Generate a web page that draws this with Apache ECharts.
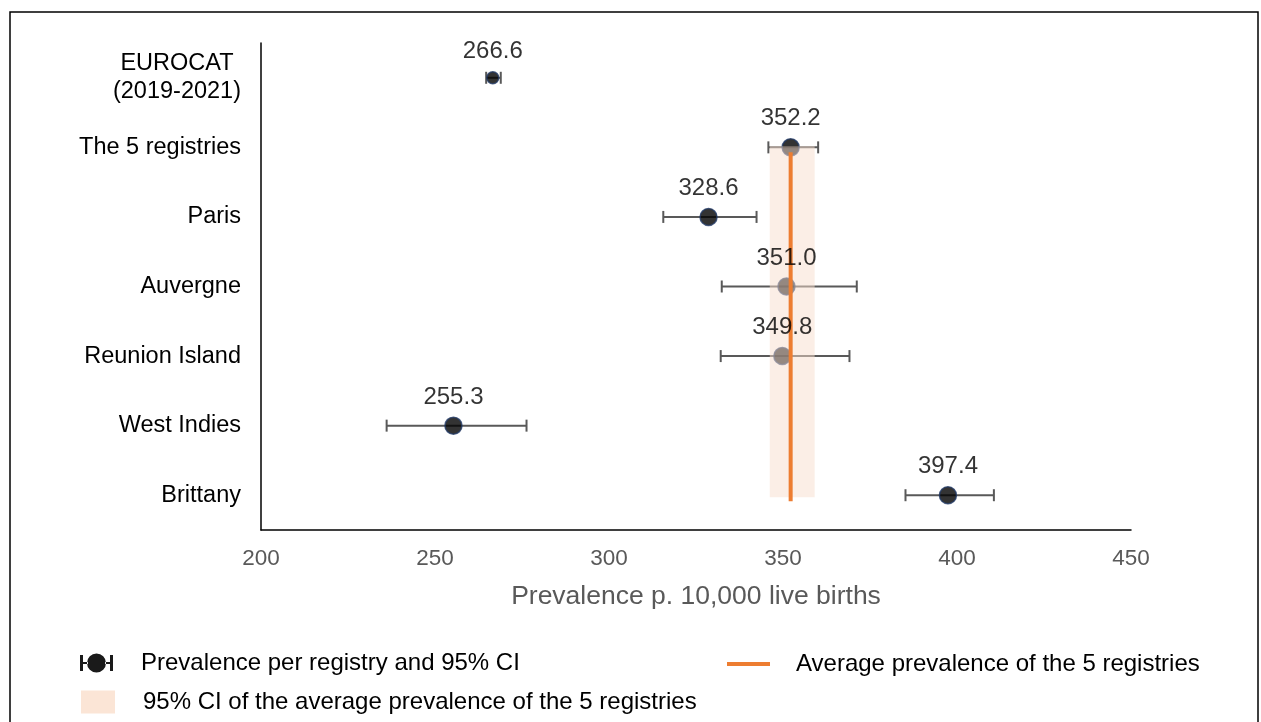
<!DOCTYPE html>
<html>
<head>
<meta charset="utf-8">
<script src="https://cdn.jsdelivr.net/npm/echarts@6/dist/echarts.min.js"></script>
<style>
  html, body { margin: 0; padding: 0; background: #fff; }
  #chart { width: 1261px; height: 722px; }
</style>
</head>
<body>
<div id="chart"></div>
<script>
// Registries, top to bottom
const categories = ['EUROCAT\n(2019-2021)', 'The 5 registries', 'Paris', 'Auvergne', 'Reunion Island', 'West Indies', 'Brittany'];
const prevalence = [266.6, 352.2, 328.6, 351.0, 349.8, 255.3, 397.4];
const ciLow = [264.7, 345.8, 315.6, 332.4, 332.1, 236.1, 385.2];
const ciHigh = [268.9, 360.1, 342.4, 371.2, 369.1, 276.3, 410.6];

// Average of the 5 registries and its 95% CI
const avgPrevalence = 352.2;
const avgCiLow = 346.2;
const avgCiHigh = 359.1;
const avgFrom = 1; // 'The 5 registries'
const avgTo = 6;   // 'Brittany'

const xTicks = { min: 200, max: 450, interval: 50 };

const FONT = '"Liberation Sans", Arial, sans-serif';
const GREY = '#595959';
const NAME_POINTS = 'Prevalence per registry and 95% CI';
const NAME_BAND = '95% CI of the average prevalence of the 5 registries';
const NAME_AVG = 'Average prevalence of the 5 registries';

const chart = echarts.init(document.getElementById('chart'));

const errorData = categories.map((c, i) => [ciLow[i], ciHigh[i], i]);
const pointData = categories.map((c, i) => [prevalence[i], i]);

// error bar: horizontal whisker with caps
const renderErrorBar = (params, api) => {
  const lo = api.coord([api.value(0), api.value(2)]);
  const hi = api.coord([api.value(1), api.value(2)]);
  const cap = 6;
  const style = { stroke: GREY, lineWidth: 2 };
  return {
    type: 'group',
    children: [
      { type: 'line', shape: { x1: lo[0], y1: lo[1], x2: hi[0], y2: hi[1] }, style },
      { type: 'line', shape: { x1: lo[0], y1: lo[1] - cap, x2: lo[0], y2: lo[1] + cap }, style },
      { type: 'line', shape: { x1: hi[0], y1: hi[1] - cap, x2: hi[0], y2: hi[1] + cap }, style },
    ],
  };
};

const renderBand = (params, api) => {
  const a = api.coord([api.value(0), api.value(2)]);
  const b = api.coord([api.value(1), api.value(3)]);
  return {
    type: 'rect',
    shape: { x: a[0], y: a[1] - 1, width: b[0] - a[0], height: b[1] - a[1] + 3 },
    style: { fill: 'rgba(247, 222, 206, 0.5)' },
  };
};

const renderAvgLine = (params, api) => {
  const a = api.coord([api.value(0), api.value(1)]);
  const b = api.coord([api.value(0), api.value(2)]);
  return {
    type: 'line',
    shape: { x1: a[0], y1: a[1] + 5, x2: b[0], y2: b[1] + 6 },
    style: { stroke: '#ed7d31', lineWidth: 4 },
  };
};

const legendText = (pad) => ({
  fontFamily: FONT,
  fontSize: 24,
  color: '#000',
  padding: [0, 0, 0, pad],
});

chart.setOption({
  textStyle: { fontFamily: FONT },
  animation: false,
  graphic: [
    {
      type: 'rect',
      shape: { x: 10, y: 12, width: 1248, height: 730 },
      style: { fill: 'none', stroke: '#000', lineWidth: 1.5 },
      silent: true,
    },
  ],
  legend: [
    {
      left: 75, top: 646,
      itemWidth: 33, itemHeight: 20,
      textStyle: legendText(23),
      data: [{
        name: NAME_POINTS,
        icon: 'path://M0,2h3v16h-3z M3,9h5v2h-5z M7,10a9.5,9.5 0 1,0 19,0a9.5,9.5 0 1,0 -19,0z M25,9h5v2h-5z M30,2h3v16h-3z',
        itemStyle: { color: '#1a1a1a' },
      }],
    },
    {
      left: 76, top: 685,
      itemWidth: 34, itemHeight: 23,
      textStyle: legendText(23),
      data: [{ name: NAME_BAND, icon: 'rect', itemStyle: { color: '#fbe5d6' } }],
    },
    {
      left: 722, top: 647,
      itemWidth: 43, itemHeight: 20,
      textStyle: legendText(21),
      data: [{
        name: NAME_AVG,
        icon: 'path://M0,8h43v4h-43z',
        itemStyle: { color: '#ed7d31' },
      }],
    },
  ],
  grid: { left: 261, right: 130, top: 43, bottom: 192, containLabel: false },
  xAxis: {
    type: 'value',
    min: xTicks.min,
    max: xTicks.max,
    interval: xTicks.interval,
    name: 'Prevalence p. 10,000 live births',
    nameLocation: 'middle',
    nameGap: 53,
    nameTextStyle: { fontFamily: FONT, fontSize: 26.5, color: GREY },
    axisLine: { show: true, lineStyle: { color: '#000', width: 1.5 } },
    axisTick: { show: false },
    splitLine: { show: false },
    axisLabel: { fontFamily: FONT, fontSize: 22.5, color: GREY, margin: 17 },
  },
  yAxis: {
    type: 'category',
    inverse: true,
    data: categories,
    axisLine: { show: true, lineStyle: { color: '#000', width: 1.5 } },
    axisTick: { show: false },
    splitLine: { show: false },
    axisLabel: {
      fontFamily: FONT,
      fontSize: 23.5,
      color: '#000',
      margin: 20,
      formatter: (v) => v.split('\n').map(s => `{c|${s}}`).join('\n'),
      rich: {
        c: { fontFamily: FONT, fontSize: 23.5, color: '#000', align: 'center', lineHeight: 28 },
      },
    },
  },
  series: [
    {
      name: NAME_POINTS,
      type: 'custom',
      renderItem: renderErrorBar,
      encode: { x: [0, 1], y: 2 },
      data: errorData,
      z: 2,
    },
    {
      name: NAME_POINTS,
      type: 'scatter',
      data: pointData,
      symbolSize: (val, p) => (p.dataIndex === 0 ? 12 : 17),
      itemStyle: { color: '#000', borderColor: '#203864', borderWidth: 1.5 },
      z: 3,
    },
    {
      name: NAME_BAND,
      type: 'custom',
      renderItem: renderBand,
      encode: { x: [0, 1], y: [2, 3] },
      data: [[avgCiLow, avgCiHigh, avgFrom, avgTo]],
      z: 4,
    },
    {
      name: NAME_AVG,
      type: 'custom',
      renderItem: renderAvgLine,
      encode: { x: 0, y: [1, 2] },
      data: [[avgPrevalence, avgFrom, avgTo]],
      z: 5,
    },
    {
      // value labels, kept above the band
      name: NAME_POINTS,
      type: 'scatter',
      data: pointData,
      symbolSize: (val, p) => (p.dataIndex === 0 ? 12 : 17),
      itemStyle: { color: 'rgba(0,0,0,0)' },
      silent: true,
      label: {
        show: true,
        position: 'top',
        distance: 8,
        fontFamily: FONT,
        fontSize: 24,
        color: '#000',
        formatter: (p) => p.value[0].toFixed(1),
      },
      z: 10,
    },
  ],
});
</script>
</body>
</html>
